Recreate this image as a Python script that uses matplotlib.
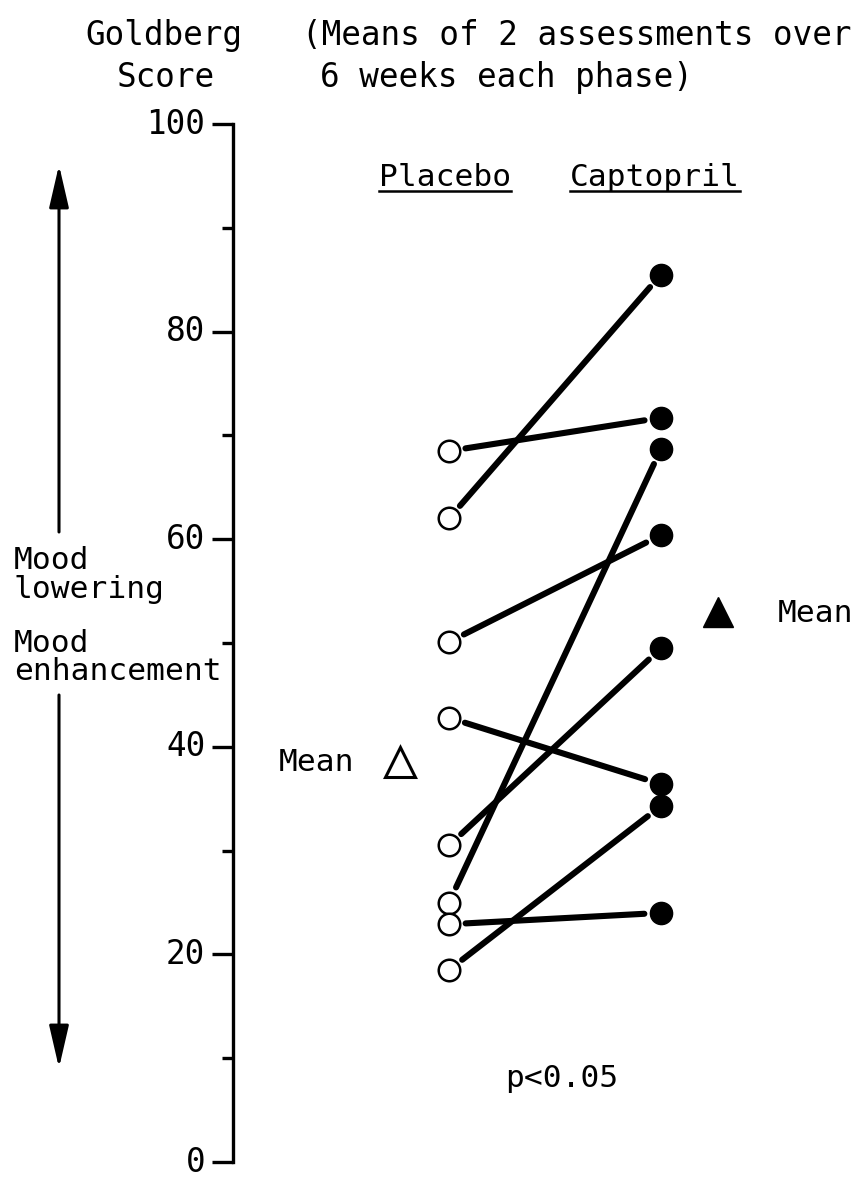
import matplotlib
matplotlib.use("Agg")
import matplotlib.pyplot as plt
from matplotlib.lines import Line2D

# ---- data ----
groups = ["Placebo", "Captopril"]
placebo = [68.5, 62.0, 50.1, 42.8, 30.5, 25.0, 22.9, 18.5]
captopril = [71.7, 85.5, 60.4, 36.4, 49.5, 68.7, 24.0, 34.3]
mean_placebo = 38.5
mean_captopril = 53.0
yticks_major = [0, 20, 40, 60, 80, 100]
yticks_minor = [10, 30, 50, 70, 90]
p_text = "p<0.05"

FONT = "DejaVu Sans Mono"
FS = 22.5      # general text
FS_L = 23.5    # header / tick labels
plt.rcParams['font.family'] = [FONT, 'DejaVu Sans']
plt.rcParams['font.size'] = FS

W, H = 859, 1178
fig = plt.figure(figsize=(W / 100, H / 100), dpi=100)
fig.patch.set_facecolor("white")


def fx(px):
    return px / W


def fy(py):
    return 1 - py / H


# axes: y spine at x=233 px, 0 at y=1162 px, 100 at y=124 px; groups at 449 / 661 px
ax = fig.add_axes([fx(233), fy(1162), fx(859) - fx(233), fy(124) - fy(1162)])
ax.set_ylim(0, 100)
ax.set_xlim((233 - 449) / 212, (859 - 449) / 212)
ax.patch.set_alpha(0)
for s in ["top", "right", "bottom"]:
    ax.spines[s].set_visible(False)
ax.spines["left"].set_linewidth(2.4)
ax.spines["left"].set_capstyle("projecting")
ax.set_xticks([])
ax.set_yticks(yticks_major)
ax.set_yticks(yticks_minor, minor=True)
ax.set_yticklabels([str(v) for v in yticks_major])
ax.tick_params(axis="y", which="major", length=15, width=2.4, pad=5,
               labelsize=FS_L, direction="out")
ax.tick_params(axis="y", which="minor", length=8, width=2.4, direction="out")
for lab in ax.get_yticklabels():
    lab.set_verticalalignment("center")

xp, xc = 0, 1
# connecting lines with gaps at the markers
for p, c in zip(placebo, captopril):
    ax.annotate("", xy=(xc, c), xytext=(xp, p),
                arrowprops=dict(arrowstyle="-", lw=4.4, color="black",
                                shrinkA=12, shrinkB=12, capstyle="round"))

ax.plot([xp] * len(placebo), placebo, "o", ms=15.5, mfc="white", mec="black",
        mew=1.8, clip_on=False, zorder=5)
ax.plot([xc] * len(captopril), captopril, "o", ms=16, mfc="black", mec="black",
        mew=1, clip_on=False, zorder=5)

# means
xm_p = (400 - 449) / 212
xm_c = (718 - 449) / 212
ax.plot([xm_p], [mean_placebo], "^", ms=21, mfc="white", mec="black", mew=2.2,
        clip_on=False)
ax.annotate("Mean", xy=(xm_p, mean_placebo), xytext=(-33, 0),
            textcoords="offset points", ha="right", va="center", fontsize=FS)
ax.plot([xm_c], [mean_captopril], "^", ms=21, mfc="black", mec="black",
        clip_on=False)
ax.annotate("Mean", xy=(xm_c, mean_captopril), xytext=(43, -1),
            textcoords="offset points", ha="left", va="center", fontsize=FS)

# group headers
t1 = ax.text(xp - 0.02, 94.8, groups[0], ha="center", va="center", fontsize=FS)
t2 = ax.text(xc - 0.03, 94.8, groups[1], ha="center", va="center", fontsize=FS)

ax.text(0.53, 8.0, p_text, ha="center", va="center", fontsize=FS)

# top-left texts
fig.text(fx(164), fy(45), "Goldberg", ha="center", va="baseline", fontsize=FS_L)
fig.text(fx(166), fy(87), "Score", ha="center", va="baseline", fontsize=FS_L)
fig.text(fx(302), fy(45), "(Means of 2 assessments over", ha="left",
         va="baseline", fontsize=FS_L)
fig.text(fx(320), fy(87), "6 weeks each phase)", ha="left", va="baseline",
         fontsize=FS_L)

# mood labels
fig.text(fx(14), fy(569), "Mood", ha="left", va="baseline", fontsize=FS)
fig.text(fx(14), fy(598), "lowering", ha="left", va="baseline", fontsize=FS)
fig.text(fx(14), fy(652), "Mood", ha="left", va="baseline", fontsize=FS)
fig.text(fx(14), fy(680), "enhancement", ha="left", va="baseline", fontsize=FS)

# double arrows
for (y0, y1) in [(532, 165), (695, 1068)]:
    fig.add_artist(matplotlib.patches.FancyArrowPatch(
        (fx(59), fy(y0)), (fx(59), fy(y1)), transform=fig.transFigure,
        arrowstyle="-|>,head_length=2.6,head_width=0.6", mutation_scale=10,
        lw=2.2, color="black", shrinkA=0, shrinkB=0))

# underline group headers
fig.canvas.draw()
r = fig.canvas.get_renderer()
b1 = t1.get_window_extent(r)
b2 = t2.get_window_extent(r)
yu = min(b1.y0, b2.y0) + 1
for b in (b1, b2):
    fig.add_artist(Line2D([b.x0 / W, b.x1 / W], [yu / H, yu / H],
                          transform=fig.transFigure, lw=1.8, color="black"))

fig.savefig("out.png", dpi=100, facecolor="white")
